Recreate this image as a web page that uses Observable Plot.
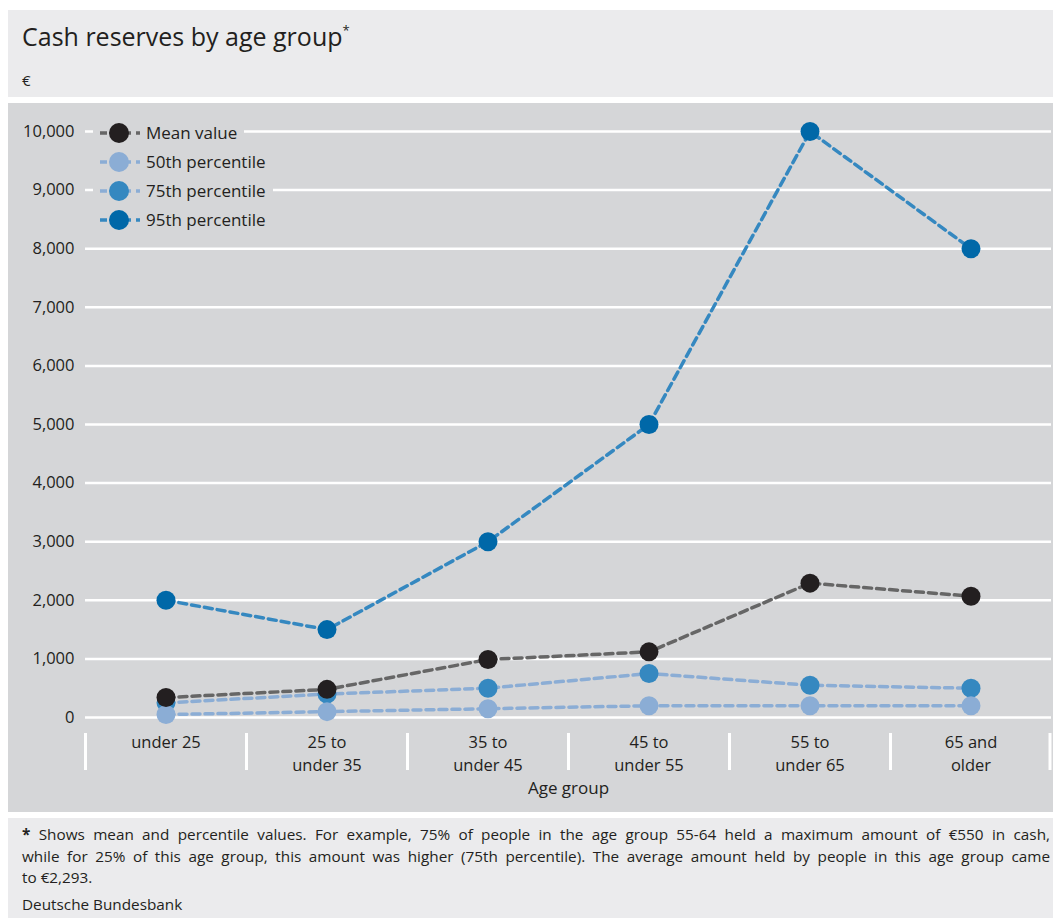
<!DOCTYPE html>
<html><head><meta charset="utf-8">
<script src="https://cdn.jsdelivr.net/npm/d3@7"></script>
<script src="https://cdn.jsdelivr.net/npm/@observablehq/plot@0.6"></script>
<style>
body{margin:0;background:#fff;font-family:"Open Sans",sans-serif;color:#231f20;}
#wrap{position:absolute;left:8px;top:10px;width:1045px;}
#header{background:#ebebed;height:87px;position:relative;}
#title{position:absolute;left:14px;top:9px;font-size:25px;white-space:nowrap;}
#title sup{font-size:13px;position:relative;top:-2px;}
#unit{position:absolute;left:14px;top:60px;font-size:15px;line-height:20px;}
#chart{margin-top:6px;background:#d5d6d8;height:709px;position:relative;}
#chart > svg{position:absolute;left:0;top:0;}
#legend{position:absolute;left:85px;top:15px;}
.lrow{display:flex;align-items:center;height:29px;background:#d5d6d8;padding-right:7px;width:max-content;font-size:17px;}
.lrow svg{margin-right:6px;display:block;}
#footer{margin-top:6px;background:#ebebed;height:100px;padding:6px 3px 0 14px;box-sizing:border-box;font-size:15.3px;line-height:21.5px;}
.jl{text-align:justify;text-align-last:justify;white-space:nowrap;}
#src{margin-top:5px;}
</style></head>
<body>
<div id="wrap">
  <div id="header"><div id="title">Cash reserves by age group<sup>*</sup></div><div id="unit">€</div></div>
  <div id="chart"><div id="legend"></div></div>
  <div id="footer">
    <div class="jl"><b>*</b> Shows mean and percentile values. For example, 75% of people in the age group 55-64 held a maximum amount of €550 in cash,</div>
    <div class="jl">while for 25% of this age group, this amount was higher (75th percentile). The average amount held by people in this age group came</div>
    <div>to €2,293.</div>
    <div id="src">Deutsche Bundesbank</div>
  </div>
</div>
<script>
const categories = ["under 25","25 to under 35","35 to under 45","45 to under 55","55 to under 65","65 and older"];
const tickLine1 = ["under 25","25 to","35 to","45 to","55 to","65 and"];
const tickLine2 = ["","under 35","under 45","under 55","under 65","older"];
const meanValue = [340, 480, 990, 1120, 2293, 2070];
const p50 = [50, 100, 150, 200, 200, 200];
const p75 = [250, 400, 500, 750, 550, 500];
const p95 = [2000, 1500, 3000, 5000, 10000, 8000];
const seriesNames = ["Mean value","50th percentile","75th percentile","95th percentile"];
const yTicks = [0,1000,2000,3000,4000,5000,6000,7000,8000,9000,10000];
const axisTitle = "Age group";

const dotColors = {"Mean value":"#231f20","50th percentile":"#8badd5","75th percentile":"#3588c0","95th percentile":"#0068a8"};
const lineColors = {"Mean value":"#666666","50th percentile":"#8badd5","75th percentile":"#8badd5","95th percentile":"#3588c0"};

const seriesValues = {"Mean value":meanValue,"50th percentile":p50,"75th percentile":p75,"95th percentile":p95};
const rows = seriesNames.flatMap(s => categories.map((c,i) => ({series:s, category:c, value:seriesValues[s][i]})));

const W = 1045, H = 709, ML = 77, MR = 2, MT = 28, MB = 95;
const bw = (W - ML - MR) / categories.length;
const drawOrder = ["95th percentile","75th percentile","50th percentile","Mean value"];
const sepInset = (H - MT - MB) - 37;

const marks = [
  Plot.ruleY(yTicks, {stroke:"white", strokeWidth:2.5}),
  Plot.ruleX(categories, {x:d=>d, dx:-bw/2, stroke:"white", strokeWidth:3, insetTop:sepInset, dy:53}),
  Plot.ruleX(categories.slice(-1), {x:d=>d, dx:bw/2 - 1.5, stroke:"white", strokeWidth:3, insetTop:sepInset, dy:53}),
  Plot.axisY({ticks:yTicks, tickSize:0, tickPadding:11, tickFormat:d3.format(","), label:null, fontSize:16.5}),
  Plot.axisX({tickSize:0, tickPadding:19, tickFormat:d=>tickLine1[categories.indexOf(d)], label:null, fontSize:16.5}),
  Plot.axisX({tickSize:0, tickPadding:41.5, tickFormat:d=>tickLine2[categories.indexOf(d)], label:null, fontSize:16.5}),
  Plot.text([axisTitle], {frameAnchor:"bottom", dy:76, fontSize:17, fill:"#231f20"}),
  ...drawOrder.map(s => Plot.line(rows.filter(r=>r.series===s), {x:"category", y:"value", stroke:lineColors[s], strokeWidth:3.5, strokeDasharray:"8,5"})),
  ...drawOrder.map(s => Plot.dot(rows.filter(r=>r.series===s), {x:"category", y:"value", r:9.5, fill:dotColors[s]}))
];

const plot = Plot.plot({
  width: W, height: H,
  marginLeft: ML, marginRight: MR, marginTop: MT, marginBottom: MB,
  style: {background:"transparent", fontFamily:"Open Sans, sans-serif", fontSize:"16.5px", color:"#231f20"},
  x: {type:"band", domain:categories, padding:0},
  y: {domain:[0,10000]},
  marks
});
document.getElementById("chart").insertBefore(plot, document.getElementById("legend"));

const legend = document.getElementById("legend");
for (const s of seriesNames) {
  const row = document.createElement("div");
  row.className = "lrow";
  row.innerHTML = `<svg width="47" height="24"><line x1="7" x2="47" y1="12" y2="12" stroke="${lineColors[s]}" stroke-width="3.5" stroke-dasharray="7,5"/><circle cx="26" cy="12" r="10" fill="${dotColors[s]}"/></svg><span>${s}</span>`;
  legend.appendChild(row);
}
</script>
</body></html>
